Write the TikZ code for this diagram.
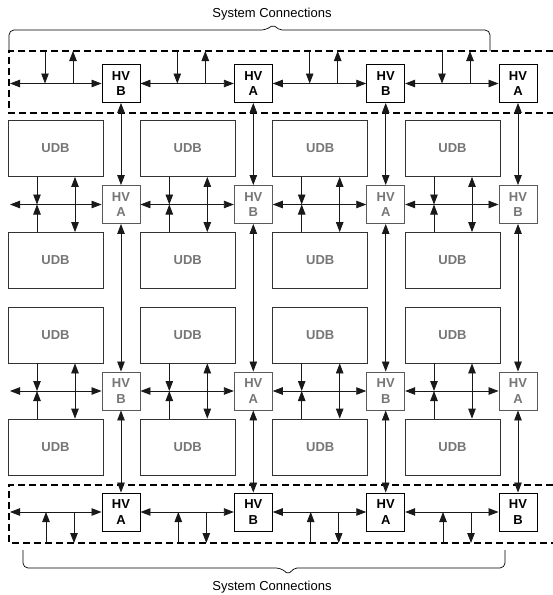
\documentclass[tikz,border=0pt]{standalone}
\usepackage{fontspec}
\setmainfont{Liberation Sans}
\usetikzlibrary{arrows.meta}
\definecolor{gtxt}{HTML}{767676}
\definecolor{gbox}{HTML}{5A5A5A}
\begin{document}
\begin{tikzpicture}[x=1pt,y=-1pt,
  hvk/.style={draw=black,line width=0.9pt,minimum width=38pt,minimum height=38pt,inner sep=0pt,align=center,font=\fontsize{13}{15.5}\selectfont\bfseries},
  hvm/.style={hvk,draw=gbox,text=gtxt},
  udb/.style={draw=black!80,line width=0.8pt,minimum width=95pt,minimum height=56pt,inner sep=0pt,text=gtxt,font=\fontsize{13}{15.5}\selectfont\bfseries},
  con/.style={line width=0.8pt,draw=black!90},
  tip/.style={-{Triangle[length=10pt,width=7.5pt]}},
  both/.style={{Triangle[length=10pt,width=7.5pt]}-{Triangle[length=10pt,width=7.5pt]}},
  dbox/.style={line width=1.6pt,dash pattern=on 7pt off 4pt},
  lbl/.style={font=\fontsize{13}{15}\selectfont,inner sep=0pt}
]
\useasboundingbox (0,0) rectangle (553,595);

% dashed regions
\draw[dbox] (553,51) -- (9,51) -- (9,113) -- (553,113);
\draw[dbox] (553,485) -- (9,485) -- (9,543) -- (553,543);

% braces and labels
\draw[line width=0.7pt] (9,51) [rounded corners=5pt] -- (9,30) -- (266,30) [rounded corners=2pt] -- (273,25) -- (280,30) [rounded corners=5pt] -- (490,30) -- (490,51);
\draw[line width=0.7pt] (23,550) [rounded corners=5pt] -- (23,568) -- (281,568) [rounded corners=2pt] -- (288,574) -- (295,568) [rounded corners=5pt] -- (505,568) -- (505,550);
\node[lbl] (st) at (272,14) {System Connections};
\node[lbl] (sb) at (272,587) {System Connections};

% nodes
\foreach \k/\c/\p/\q in {1/121/B/A, 2/253.3/A/B, 3/385.7/B/A, 4/518/A/B} {
  \node[hvk] (t\k) at (\c,83.5) {HV\\\p};
  \node[hvm] (m\k) at (\c,204.5) {HV\\\q};
  \node[hvm] (n\k) at (\c,391) {HV\\\p};
  \node[hvk] (b\k) at (\c,512) {HV\\\q};
  \node[udb] (ua\k) at (\c-65.5,148.5) {UDB};
  \node[udb] (ub\k) at (\c-65.5,260.5) {UDB};
  \node[udb] (uc\k) at (\c-65.5,335) {UDB};
  \node[udb] (ud\k) at (\c-65.5,447) {UDB};
  \coordinate (tt\k) at (\c-76,51);
  \coordinate (tu\k) at (\c-48,51);
  \coordinate (bu\k) at (\c-75,543);
  \coordinate (bd\k) at (\c-47,543);
}
\coordinate (tl) at (10,83.5);
\coordinate (ml) at (10,204.5);
\coordinate (nl) at (10,391);
\coordinate (bl) at (10,512);

% vertical trunks
\foreach \k in {1,...,4} {
  \draw[con,both] (t\k) -- (m\k);
  \draw[con,both] (m\k) -- (n\k);
  \draw[con,both] (n\k) -- (b\k);
}

% horizontal buses
\draw[con,both] (tl) -- (t1.west);
\draw[con,both] (ml) -- (m1.west);
\draw[con,both] (nl) -- (n1.west);
\draw[con,both] (bl) -- (b1.west);
\foreach \k/\j in {1/2,2/3,3/4} {
  \draw[con,both] (t\k.east) -- (t\j.west);
  \draw[con,both] (m\k.east) -- (m\j.west);
  \draw[con,both] (n\k.east) -- (n\j.west);
  \draw[con,both] (b\k.east) -- (b\j.west);
}

% local connections
\foreach \k in {1,...,4} {
  % top system row
  \draw[con,tip] (tt\k) -- (tt\k |- t\k.center);
  \draw[con,tip] (tu\k |- t\k.center) -- (tu\k);
  % bottom system row
  \draw[con,tip] (bu\k) -- (bu\k |- b\k.center);
  \draw[con,tip] (bd\k |- b\k.center) -- (bd\k);
  % UDB pair 1
  \draw[con,tip] ([xshift=-18.5pt]ua\k.south) -- ([xshift=-18.5pt]ua\k.south |- m\k.center);
  \draw[con,tip] ([xshift=-18.5pt]ub\k.north) -- ([xshift=-18.5pt]ub\k.north |- m\k.center);
  \draw[con,both] ([xshift=19.5pt]ua\k.south) -- ([xshift=19.5pt]ub\k.north);
  % UDB pair 2
  \draw[con,tip] ([xshift=-18.5pt]uc\k.south) -- ([xshift=-18.5pt]uc\k.south |- n\k.center);
  \draw[con,tip] ([xshift=-18.5pt]ud\k.north) -- ([xshift=-18.5pt]ud\k.north |- n\k.center);
  \draw[con,both] ([xshift=19.5pt]uc\k.south) -- ([xshift=19.5pt]ud\k.north);
}
\end{tikzpicture}
\end{document}
